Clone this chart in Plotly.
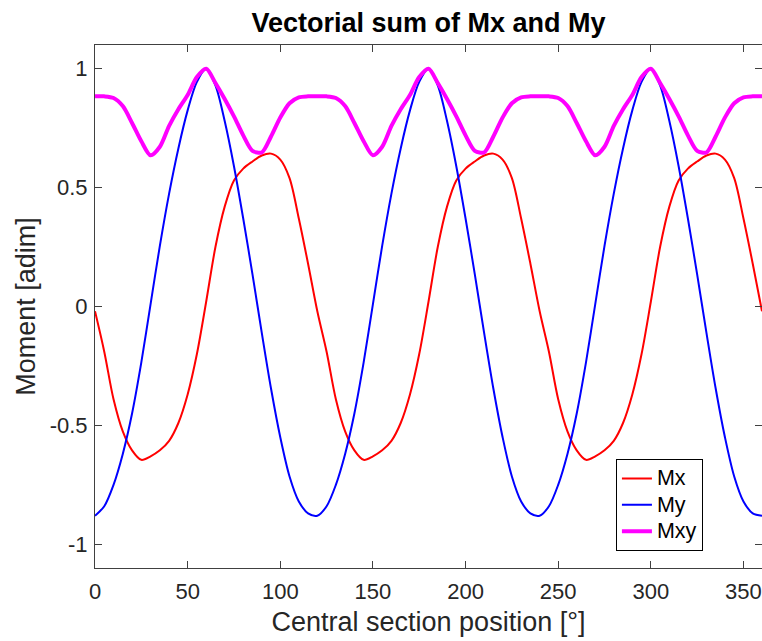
import plotly.graph_objects as go

angle = [0, 5, 10, 15, 20, 25, 30, 35, 40, 45, 50, 55, 60, 65, 70, 75, 80, 85, 90, 95, 100, 105, 110, 115,
         120, 125, 130, 135, 140, 145, 150, 155, 160, 165, 170, 175, 180, 185, 190, 195, 200, 205, 210, 215, 220, 225, 230, 235,
         240, 245, 250, 255, 260, 265, 270, 275, 280, 285, 290, 295, 300, 305, 310, 315, 320, 325, 330, 335, 340, 345, 350, 355,
         360]

mx = [-0.02, -0.19, -0.39, -0.525, -0.605, -0.645, -0.63, -0.605, -0.565, -0.49, -0.37, -0.2, 0.02, 0.25, 0.42, 0.53, 0.58, 0.61, 0.635, 0.643, 0.618, 0.54, 0.37, 0.18,
      -0.02, -0.19, -0.39, -0.525, -0.605, -0.645, -0.63, -0.605, -0.565, -0.49, -0.37, -0.2, 0.02, 0.25, 0.42, 0.53, 0.58, 0.61, 0.635, 0.643, 0.618, 0.54, 0.37, 0.18,
      -0.02, -0.19, -0.39, -0.525, -0.605, -0.645, -0.63, -0.605, -0.565, -0.49, -0.37, -0.2, 0.02, 0.25, 0.42, 0.53, 0.58, 0.61, 0.635, 0.643, 0.618, 0.54, 0.37, 0.18,
      -0.02]

my = [-0.88, -0.84, -0.75, -0.62, -0.45, -0.235, 0.01, 0.255, 0.475, 0.665, 0.825, 0.945, 1.0, 0.93, 0.78, 0.59, 0.37, 0.135, -0.11, -0.345, -0.55, -0.715, -0.82, -0.87,
      -0.88, -0.84, -0.75, -0.62, -0.45, -0.235, 0.01, 0.255, 0.475, 0.665, 0.825, 0.945, 1.0, 0.93, 0.78, 0.59, 0.37, 0.135, -0.11, -0.345, -0.55, -0.715, -0.82, -0.87,
      -0.88, -0.84, -0.75, -0.62, -0.45, -0.235, 0.01, 0.255, 0.475, 0.665, 0.825, 0.945, 1.0, 0.93, 0.78, 0.59, 0.37, 0.135, -0.11, -0.345, -0.55, -0.715, -0.82, -0.87,
      -0.88]

mxy = [0.884, 0.884, 0.877, 0.843, 0.772, 0.695, 0.636, 0.672, 0.76, 0.83, 0.89, 0.965, 1.0, 0.94, 0.873, 0.80, 0.72, 0.655, 0.648, 0.715, 0.795, 0.855, 0.88, 0.884,
       0.884, 0.884, 0.877, 0.843, 0.772, 0.695, 0.636, 0.672, 0.76, 0.83, 0.89, 0.965, 1.0, 0.94, 0.873, 0.80, 0.72, 0.655, 0.648, 0.715, 0.795, 0.855, 0.88, 0.884,
       0.884, 0.884, 0.877, 0.843, 0.772, 0.695, 0.636, 0.672, 0.76, 0.83, 0.89, 0.965, 1.0, 0.94, 0.873, 0.80, 0.72, 0.655, 0.648, 0.715, 0.795, 0.855, 0.88, 0.884,
       0.884]

series_names = ["Mx", "My", "Mxy"]
x_ticks = [0, 50, 100, 150, 200, 250, 300, 350]
y_ticks = [-1, -0.5, 0, 0.5, 1]
y_tick_labels = ["-1", "-0.5", "0", "0.5", "1"]

FONT = "Liberation Sans, Arial, Helvetica, sans-serif"
AX = "#404040"


def legend_label(name):
    return '<span style="font-size:21.5px">' + name + '</span>'


fig = go.Figure()
fig.add_trace(go.Scatter(x=angle, y=mx, name=legend_label(series_names[0]), mode="lines",
                         line=dict(color="#ff0000", width=2, shape="spline", smoothing=0.9)))
fig.add_trace(go.Scatter(x=angle, y=my, name=legend_label(series_names[1]), mode="lines",
                         line=dict(color="#0000ff", width=2, shape="spline", smoothing=0.9)))
fig.add_trace(go.Scatter(x=angle, y=mxy, name=legend_label(series_names[2]), mode="lines",
                         line=dict(color="#ff00ff", width=4, shape="spline", smoothing=0.8)))

fig.update_layout(
    width=762, height=641,
    margin=dict(l=95, r=0, t=45, b=73),
    paper_bgcolor="white", plot_bgcolor="white",
    font=dict(family=FONT, color="#262626"),
    title=dict(text="<b>Vectorial sum of Mx and My</b>", x=0.5, xref="paper",
               y=0.965, yref="container", yanchor="middle",
               font=dict(size=27, color="black", family=FONT)),
    showlegend=True,
    legend=dict(x=0.781, y=0.208, xanchor="left", yanchor="top",
                bgcolor="white", bordercolor="black", borderwidth=1,
                font=dict(size=18, color="black", family=FONT),
                tracegroupgap=0),
)
fig.update_xaxes(range=[0, 360], tickvals=x_ticks, ticks="inside", ticklen=7, tickcolor=AX,
                 showline=True, linecolor=AX, linewidth=1, mirror="ticks", showgrid=False, zeroline=False,
                 tickfont=dict(size=22, color="#262626"), ticklabelstandoff=4,
                 title=dict(text="Central section position [°]", font=dict(size=27, color="#262626"), standoff=8))
fig.update_yaxes(range=[-1.1, 1.1], tickvals=y_ticks, ticktext=y_tick_labels, ticks="inside", ticklen=7, tickcolor=AX,
                 showline=True, linecolor=AX, linewidth=1, mirror="ticks", showgrid=False, zeroline=False,
                 tickfont=dict(size=22, color="#262626"), ticklabelstandoff=2,
                 title=dict(text="Moment [adim]", font=dict(size=27, color="#262626"), standoff=6))

fig.write_html("out.html")
